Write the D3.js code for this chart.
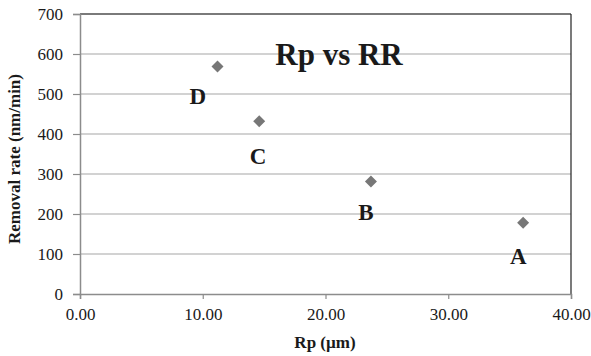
<!DOCTYPE html>
<html><head><meta charset="utf-8">
<script src="https://cdn.jsdelivr.net/npm/d3@7"></script>
<style>body{margin:0;background:#fff}svg{display:block}text{font-family:"Liberation Serif","Times New Roman",serif;fill:#1a1a1a}</style>
</head><body>
<script>
const samples = ["A","B","C","D"];
const rp = [36.1, 23.7, 14.6, 11.2];
const rr = [178, 281, 432, 569];
// annotation anchors (data units) for the sample letters
const labelRp = [35.7, 23.3, 14.5, 9.6];
const labelRR = [74, 184, 324, 474];
const xTicks = [0,10,20,30,40];
const yTicks = [0,100,200,300,400,500,600,700];
const title = "Rp vs RR";
const xTitle = "Rp (\u00b5m)";
const yTitle = "Removal rate (nm/min)";

const W=591,H=356, m={l:80,t:14,r:20,b:62};
const svg=d3.select("body").append("svg").attr("width",W).attr("height",H);
const x=d3.scaleLinear().domain([0,40]).range([m.l,W-m.r]);
const y=d3.scaleLinear().domain([0,700]).range([H-m.b,m.t]);

svg.append("g").selectAll("line").data(yTicks.filter(d=>d>0)).join("line")
  .attr("x1",x(0)).attr("x2",x(40)).attr("y1",d=>y(d)).attr("y2",d=>y(d))
  .attr("stroke","#a6a6a6").attr("stroke-width",1.2);
svg.append("line").attr("x1",x(0)).attr("x2",x(40)).attr("y1",y(700)).attr("y2",y(700)).attr("stroke","#222").attr("stroke-width",1.2);
svg.append("line").attr("x1",x(40)).attr("x2",x(40)).attr("y1",y(700)).attr("y2",y(0)).attr("stroke","#222").attr("stroke-width",1.2);

const yAxis=svg.append("g").attr("transform",`translate(${x(0)},0)`)
  .call(d3.axisLeft(y).tickValues(yTicks).tickSize(7).tickPadding(10).tickFormat(d3.format("d")));
const xAxis=svg.append("g").attr("transform",`translate(0,${y(0)})`)
  .call(d3.axisBottom(x).tickValues(xTicks).tickSize(5).tickPadding(9).tickFormat(d3.format(".2f")));
[yAxis,xAxis].forEach(a=>{
  a.select(".domain").attr("stroke","#8c8c8c").attr("stroke-width",1.5);
  a.selectAll(".tick line").attr("stroke","#8c8c8c").attr("stroke-width",1.2);
  a.selectAll("text").attr("font-size",17).attr("font-family","Liberation Serif").attr("fill","#2a2a2a");
});

const pts=samples.map((s,i)=>({s,x:rp[i],y:rr[i],lx:labelRp[i],ly:labelRR[i]}));
svg.append("g").selectAll("path").data(pts).join("path")
  .attr("d",d3.symbol(d3.symbolSquare,72))
  .attr("transform",d=>`translate(${x(d.x)},${y(d.y)}) rotate(45)`)
  .attr("fill","#777");
svg.append("g").selectAll("text").data(pts).join("text")
  .attr("x",d=>x(d.lx)).attr("y",d=>y(d.ly))
  .attr("text-anchor","middle").attr("font-size",23).attr("font-weight","bold").text(d=>d.s);

svg.append("text").attr("x",339).attr("y",65).attr("text-anchor","middle")
  .attr("font-size",31).attr("font-weight","bold").text(title);
svg.append("text").attr("x",325).attr("y",348).attr("text-anchor","middle")
  .attr("font-size",17).attr("font-weight","bold").text(xTitle);
svg.append("text").attr("transform",`translate(20,159) rotate(-90)`).attr("text-anchor","middle")
  .attr("font-size",17).attr("font-weight","bold").text(yTitle);
</script>
</body></html>
